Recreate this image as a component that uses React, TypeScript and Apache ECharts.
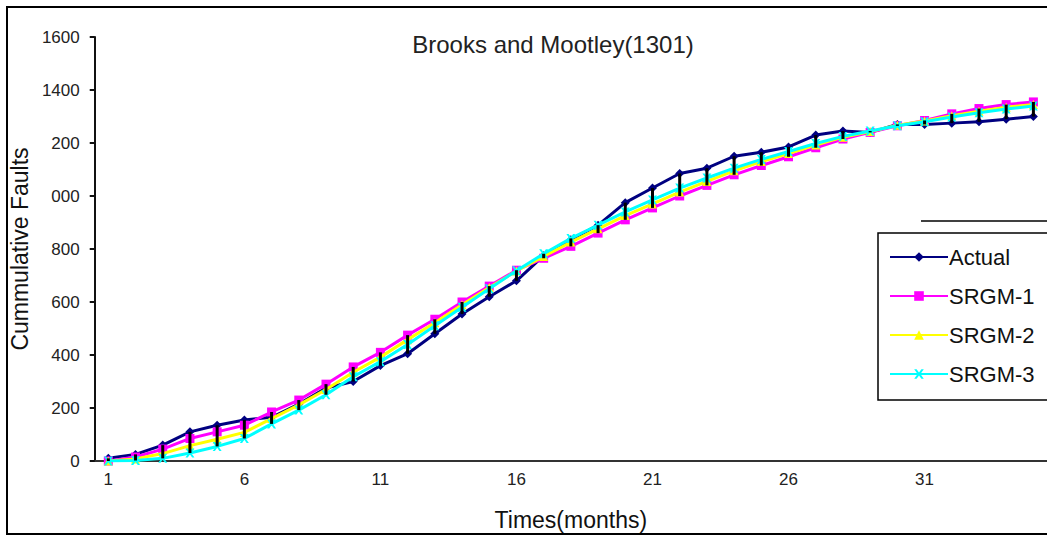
import React, { useEffect, useRef } from "react";
import * as echarts from "echarts";

const months: string[] = Array.from({ length: 35 }, (_, i) => String(i + 1));
const actual = [10, 25, 60, 110, 135, 155, 165, 215, 275, 300, 360, 405, 480, 555, 620, 680, 775, 835, 890, 975, 1030, 1085, 1105, 1150, 1165, 1185, 1230, 1245, 1240, 1270, 1270, 1275, 1280, 1290, 1300];
const srgm1 = [0, 15, 45, 85, 110, 135, 185, 230, 290, 355, 410, 475, 535, 600, 660, 720, 765, 810, 860, 910, 955, 1000, 1040, 1080, 1115, 1148, 1182, 1215, 1240, 1265, 1285, 1310, 1330, 1345, 1355];
const srgm2 = [0, 8, 28, 58, 82, 108, 160, 212, 270, 335, 392, 458, 522, 590, 655, 717, 772, 826, 876, 926, 970, 1015, 1055, 1095, 1130, 1160, 1192, 1222, 1243, 1267, 1283, 1303, 1320, 1335, 1345];
const srgm3 = [0, 2, 10, 30, 55, 85, 140, 192, 250, 318, 375, 440, 510, 580, 650, 718, 782, 840, 890, 940, 985, 1030, 1068, 1105, 1138, 1168, 1198, 1225, 1245, 1265, 1280, 1298, 1314, 1328, 1340];
const yTickLabels = ["0", "200", "400", "600", "800", "000", "200", "1400", "1600"];
const seriesNames = ["Actual", "SRGM-1", "SRGM-2", "SRGM-3"];

const xSymbol =
  "path://M0,0 L2.5,0 5,3.5 7.5,0 10,0 6.5,5 10,10 7.5,10 5,6.5 2.5,10 0,10 3.5,5Z";

export default function App() {
  const ref = useRef<HTMLDivElement>(null);
  useEffect(() => {
    if (!ref.current) return;
    const chart = echarts.init(ref.current, undefined, { renderer: "svg" });
    const all = [actual, srgm1, srgm2, srgm3];
    const hiLow = months.map((_, i) => {
      const vals = all.map((a) => a[i]);
      return [i, Math.min(...vals), Math.max(...vals)];
    });
    const font = "Arial, 'Liberation Sans', sans-serif";
    chart.setOption({
      animation: false,
      backgroundColor: "#ffffff",
      textStyle: { fontFamily: font },
      title: {
        text: "Brooks and Mootley(1301)",
        left: 548,
        textAlign: "center",
        top: 27,
        textStyle: { fontSize: 24, fontWeight: "normal", color: "#222", fontFamily: font },
      },
      grid: { left: 93, top: 37, width: 955, height: 424 },
      legend: {
        data: seriesNames,
        orient: "vertical",
        left: 884,
        top: 241,
        itemWidth: 58,
        itemHeight: 12,
        itemGap: 17,
        textStyle: { fontSize: 22, color: "#111", fontFamily: font, padding: [0, 0, 0, -4] },
      },
      graphic: [
        {
          type: "rect",
          shape: { x: 7, y: 7, width: 1100, height: 527 },
          style: { fill: "none", stroke: "#000", lineWidth: 2 },
          silent: true,
        },
        {
          type: "rect",
          shape: { x: 878, y: 233, width: 200, height: 167 },
          style: { fill: "none", stroke: "#000", lineWidth: 1.5 },
          silent: true,
        },
        {
          type: "line",
          shape: { x1: 921, y1: 221, x2: 1047, y2: 221 },
          style: { stroke: "#000", lineWidth: 1.5 },
          silent: true,
        },
      ],
      xAxis: {
        type: "category",
        data: months,
        boundaryGap: true,
        name: "Times(months)",
        nameLocation: "middle",
        nameGap: 47,
        nameTextStyle: { fontSize: 23, color: "#111", fontFamily: font },
        axisLine: { lineStyle: { color: "#333", width: 2 } },
        axisTick: { show: false },
        axisLabel: { interval: 4, fontSize: 17, color: "#222", margin: 10, fontFamily: font },
        splitLine: { show: false },
      },
      yAxis: {
        type: "value",
        min: 0,
        max: 1600,
        interval: 200,
        name: "Cummulative Faults",
        nameLocation: "middle",
        nameGap: 46,
        nameTextStyle: { fontSize: 23, color: "#111", fontFamily: font },
        axisLine: { show: true, lineStyle: { color: "#111", width: 2 } },
        axisTick: { show: true, length: 5, lineStyle: { color: "#111", width: 2 } },
        axisLabel: {
          fontSize: 17,
          color: "#222",
          margin: 15,
          fontFamily: font,
          formatter: (v: number) => yTickLabels[Math.round(v / 200)] ?? String(v),
        },
        splitLine: { show: false },
      },
      series: [
        {
          name: "Actual",
          type: "line",
          data: actual,
          symbol: "diamond",
          symbolSize: 9,
          itemStyle: { color: "#000080" },
          lineStyle: { color: "#000080", width: 3 },
          z: 2,
        },
        {
          name: "SRGM-1",
          type: "line",
          data: srgm1,
          symbol: "rect",
          symbolSize: 9,
          itemStyle: { color: "#ff00ff" },
          lineStyle: { color: "#ff00ff", width: 3 },
          z: 3,
        },
        {
          name: "SRGM-2",
          type: "line",
          data: srgm2,
          symbol: "triangle",
          symbolSize: 9,
          itemStyle: { color: "#ffff00" },
          lineStyle: { color: "#ffff00", width: 3 },
          z: 4,
        },
        {
          name: "SRGM-3",
          type: "line",
          data: srgm3,
          symbol: xSymbol,
          symbolSize: 9,
          itemStyle: { color: "#00ffff" },
          lineStyle: { color: "#00ffff", width: 3 },
          z: 5,
        },
        {
          name: "hilow",
          type: "custom",
          data: hiLow,
          z: 6,
          silent: true,
          renderItem: (_params: any, api: any) => {
            const p1 = api.coord([api.value(0), api.value(1)]);
            const p2 = api.coord([api.value(0), api.value(2)]);
            return {
              type: "line",
              shape: { x1: p1[0], y1: p1[1], x2: p2[0], y2: p2[1] },
              style: { stroke: "#000", lineWidth: 3 },
            };
          },
        },
      ],
    });
    return () => chart.dispose();
  }, []);
  return (
    <div
      ref={ref}
      style={{ position: "fixed", left: 0, top: 0, width: 1047, height: 536, background: "#fff" }}
    />
  );
}
